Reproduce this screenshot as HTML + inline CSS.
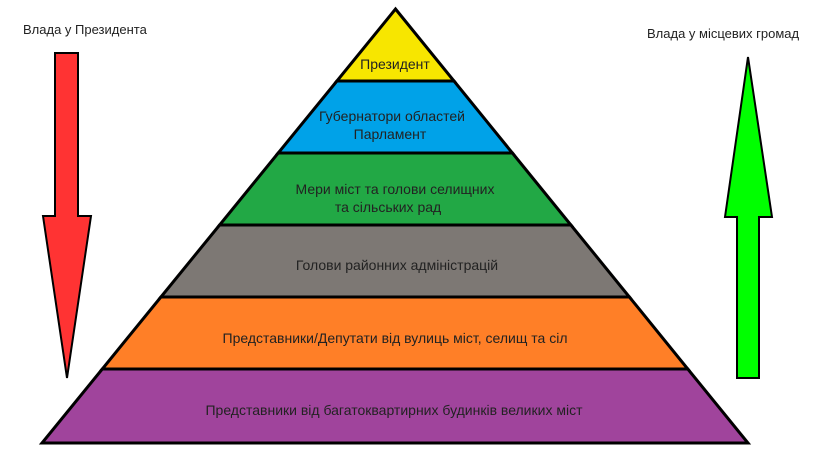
<!DOCTYPE html>
<html><head><meta charset="utf-8"><style>
html,body{margin:0;padding:0;background:#fff;}
svg{display:block;}
text{font-family:"Liberation Sans Narrow","Liberation Sans","DejaVu Sans",sans-serif;font-size:13px;fill:#222;}
.l{font-size:14px;}
</style></head><body>
<svg width="819" height="460" viewBox="0 0 819 460" xmlns="http://www.w3.org/2000/svg">
<rect width="819" height="460" fill="#fff"/>
<g stroke="#000" stroke-width="3" stroke-linejoin="miter">
<polygon points="395.5,9 454,81 336.9,81" fill="#f7e600"/>
<polygon points="336.9,81 454,81 512.4,153 278.2,153" fill="#00a2e8"/>
<polygon points="278.2,153 512.4,153 570.9,225 219.6,225" fill="#22a845"/>
<polygon points="219.6,225 570.9,225 629.4,297 160.9,297" fill="#7d7874"/>
<polygon points="160.9,297 629.4,297 687.8,369 102.3,369" fill="#ff7f27"/>
<polygon points="102.3,369 687.8,369 748,443 42,443" fill="#a0449c"/>
<polygon points="55,53 78,53 78,216 91,216 67,378 43,216 55,216" fill="#f33" stroke-width="2"/>
<polygon points="737,378 759,378 759,217 772,217 748,57 725,217 737,217" fill="#0f0" stroke-width="2"/>
</g>
<g text-anchor="middle" class="l">
<text class="l" x="395" y="69">Президент</text>
<text class="l" x="392" y="121">Губернатори областей</text>
<text class="l" x="390" y="139">Парламент</text>
<text class="l" x="395" y="194">Мери міст та голови селищних</text>
<text class="l" x="388" y="212">та сільських рад</text>
<text class="l" x="397" y="270">Голови районних адміністрацій</text>
<text class="l" x="395" y="343">Представники/Депутати від вулиць міст, селищ та сіл</text>
<text class="l" x="394" y="415">Представники від багатоквартирних будинків великих міст</text>
</g>
<text x="23" y="34">Влада у Президента</text>
<text x="647" y="38">Влада у місцевих громад</text>
</svg>
</body></html>
